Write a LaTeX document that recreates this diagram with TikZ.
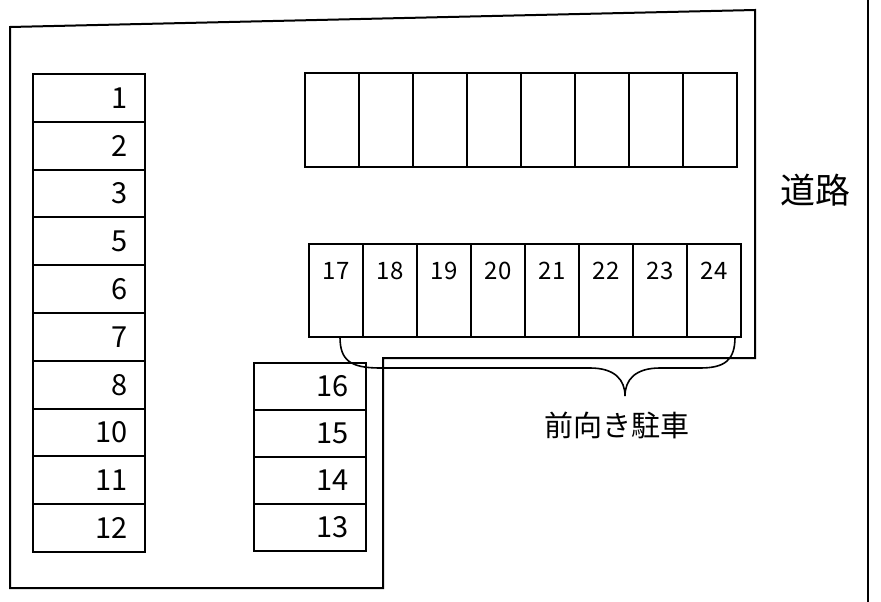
\documentclass[tikz,border=0pt]{standalone}
\usepackage{fontspec}
\setmainfont{Noto Sans CJK JP}
\usetikzlibrary{positioning}

\tikzset{
    lot/.style={draw, line width=2pt, minimum width=112pt, minimum height=47.8pt, inner sep=0pt},
    bay/.style={draw, line width=2pt, minimum width=54pt, minimum height=93pt, inner sep=0pt},
    baylabel/.style={font=\fontsize{24}{24}\selectfont},
    lotlabel/.style={anchor=east, font=\fontsize{29}{29}\selectfont}
}

\begin{document}
\begin{tikzpicture}[x=1pt,y=-1pt]
    \useasboundingbox (0,0) rectangle (881,602);

    % Site outline and road
    \draw [line width=2pt] (10,27) -- (755,10) -- (755,358) -- (383,358) -- (383,588) -- (10,588) -- cycle;
    \draw [line width=2.2pt] (868,0) -- (868,602);
    \node (road) at (815,190) {\fontsize{35}{35}\selectfont 道路};

    % Left column
    \foreach \n [count=\i from 0] in {1,2,3,5,6,7,8,10,11,12} {
        \node[lot] (l\n) at (89,97.9+\i*47.8) {};
        \node[lotlabel] at (131,97.9+\i*47.8) {\n};
    }

    % Middle column
    \foreach \n [count=\i from 0] in {16,15,14,13} {
        \node[lot] (m\n) at (310,386.5+\i*47) {};
        \node[lotlabel] at (352,386.5+\i*47) {\n};
    }

    % Top row
    \foreach \i in {0,...,7} {
        \node[bay] (t\i) at (332+\i*54,120) {};
    }

    % Second row
    \foreach \n [count=\i from 0] in {17,...,24} {
        \node[bay] (b\n) at (336+\i*54,290) {};
        \node[baylabel] at (336+\i*54,271) {\n};
    }

    % Brace
    \coordinate (bl) at (340,337);
    \coordinate (br) at (735,337);
    \coordinate (tip) at (625,396);
    \draw [line width=1.6pt] (bl) .. controls (340,360) and (350,368) .. (380,368)
        -- (590,368) .. controls (615,368) and (625,380) .. (tip);
    \draw [line width=1.6pt] (br) .. controls (735,360) and (725,368) .. (700,368)
        -- (660,368) .. controls (635,368) and (625,380) .. (tip);
    \node (front) at (617,425) {\fontsize{29}{29}\selectfont 前向き駐車};
\end{tikzpicture}
\end{document}
